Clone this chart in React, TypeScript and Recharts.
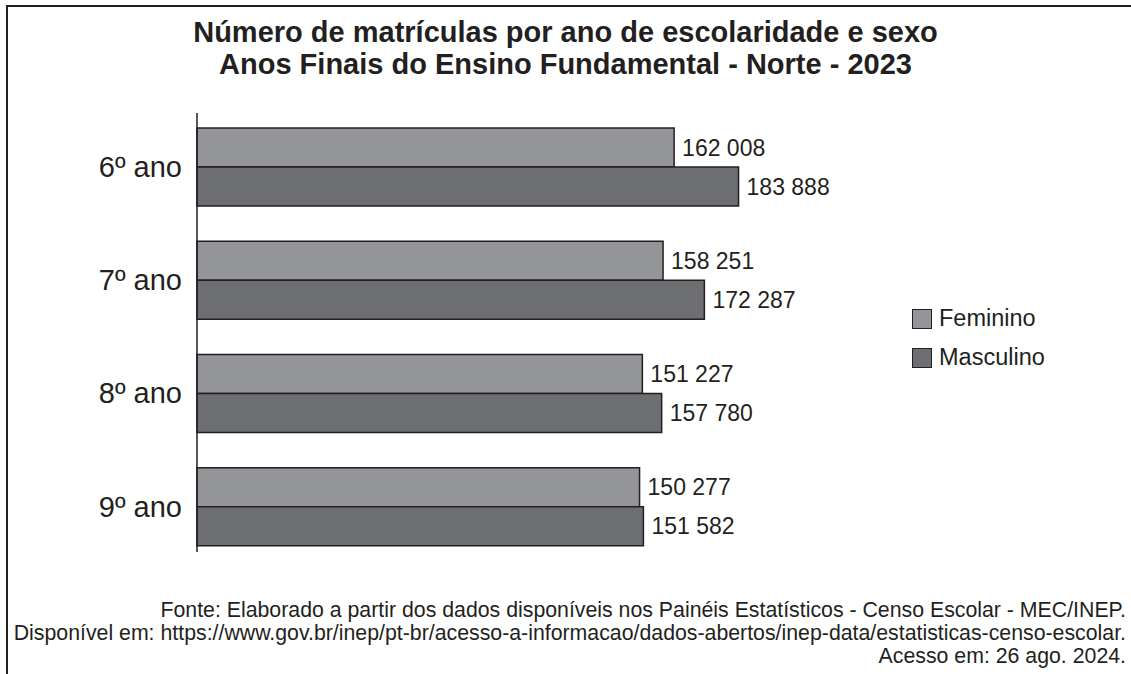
import React from "react";
import { BarChart, Bar, XAxis, YAxis, LabelList } from "recharts";

const categories = ["6º ano", "7º ano", "8º ano", "9º ano"];
const feminino = [162008, 158251, 151227, 150277];
const masculino = [183888, 172287, 157780, 151582];
const seriesNames = ["Feminino", "Masculino"];
const seriesColors = ["#939598", "#6d6e71"];
const titleLines = [
  "Número de matrículas por ano de escolaridade e sexo",
  "Anos Finais do Ensino Fundamental - Norte - 2023",
];
const footLines = [
  "Fonte: Elaborado a partir dos dados disponíveis nos Painéis Estatísticos - Censo Escolar - MEC/INEP.",
  "Disponível em: https://www.gov.br/inep/pt-br/acesso-a-informacao/dados-abertos/inep-data/estatisticas-censo-escolar.",
  "Acesso em: 26 ago. 2024.",
];

const data = categories.map((ano, i) => ({
  ano,
  Feminino: feminino[i],
  Masculino: masculino[i],
}));

const INK = "#231f20";
const fmt = (v: any) => String(v).replace(/\B(?=(\d{3})+(?!\d))/g, " ");

export default function App() {
  return (
    <div
      style={{
        position: "relative",
        width: 1131,
        height: 674,
        background: "#fff",
        fontFamily: "'Liberation Sans', Arial, sans-serif",
        color: INK,
        overflow: "hidden",
      }}
    >
      <style>{`body{margin:0;}`}</style>
      <div
        style={{
          position: "absolute",
          left: 6,
          top: 5,
          width: 1131,
          height: 700,
          borderTop: `2px solid ${INK}`,
          borderLeft: `2px solid ${INK}`,
        }}
      />
      <div
        style={{
          position: "absolute",
          top: 15.7,
          left: 0,
          width: 1131,
          textAlign: "center",
          fontWeight: "bold",
          fontSize: 29,
          lineHeight: "32px",
        }}
      >
        {titleLines.map((t) => (
          <div key={t}>{t}</div>
        ))}
      </div>
      <div style={{ position: "absolute", left: 0, top: 0 }}>
        <BarChart
          width={1131}
          height={674}
          data={data}
          layout="vertical"
          margin={{ top: 113, right: 345, bottom: 122, left: 0 }}
          barCategoryGap={18}
          barGap={0}
        >
          <XAxis type="number" domain={[0, 200000]} hide />
          <YAxis
            type="category"
            dataKey="ano"
            width={197}
            tickLine={false}
            tickSize={0}
            tickMargin={15}
            padding={{ top: -3, bottom: -11 }}
            axisLine={{ stroke: INK, strokeWidth: 1.5 }}
            tick={{ fontSize: 29, fill: INK }}
          />
          {seriesNames.map((name, i) => (
            <Bar
              key={name}
              dataKey={name}
              fill={seriesColors[i]}
              stroke={INK}
              strokeWidth={1.5}
              isAnimationActive={false}
            >
              <LabelList
                dataKey={name}
                position="right"
                offset={8}
                formatter={fmt}
                style={{ fontSize: 23, fill: INK }}
              />
            </Bar>
          ))}
        </BarChart>
      </div>
      {seriesNames.map((name, i) => (
        <div
          key={name}
          style={{
            position: "absolute",
            left: 912,
            top: 308 + i * 39,
            height: 21,
            display: "flex",
            alignItems: "center",
          }}
        >
          <div
            style={{
              width: 18,
              height: 18,
              background: seriesColors[i],
              border: `1.5px solid ${INK}`,
            }}
          />
          <span style={{ fontSize: 23.5, marginLeft: 7, lineHeight: "21px" }}>{name}</span>
        </div>
      ))}
      <div
        style={{
          position: "absolute",
          right: 5,
          top: 598.5,
          textAlign: "right",
          fontSize: 21.3,
          lineHeight: "23px",
          whiteSpace: "nowrap",
        }}
      >
        {footLines.map((t) => (
          <div key={t}>{t}</div>
        ))}
      </div>
    </div>
  );
}
